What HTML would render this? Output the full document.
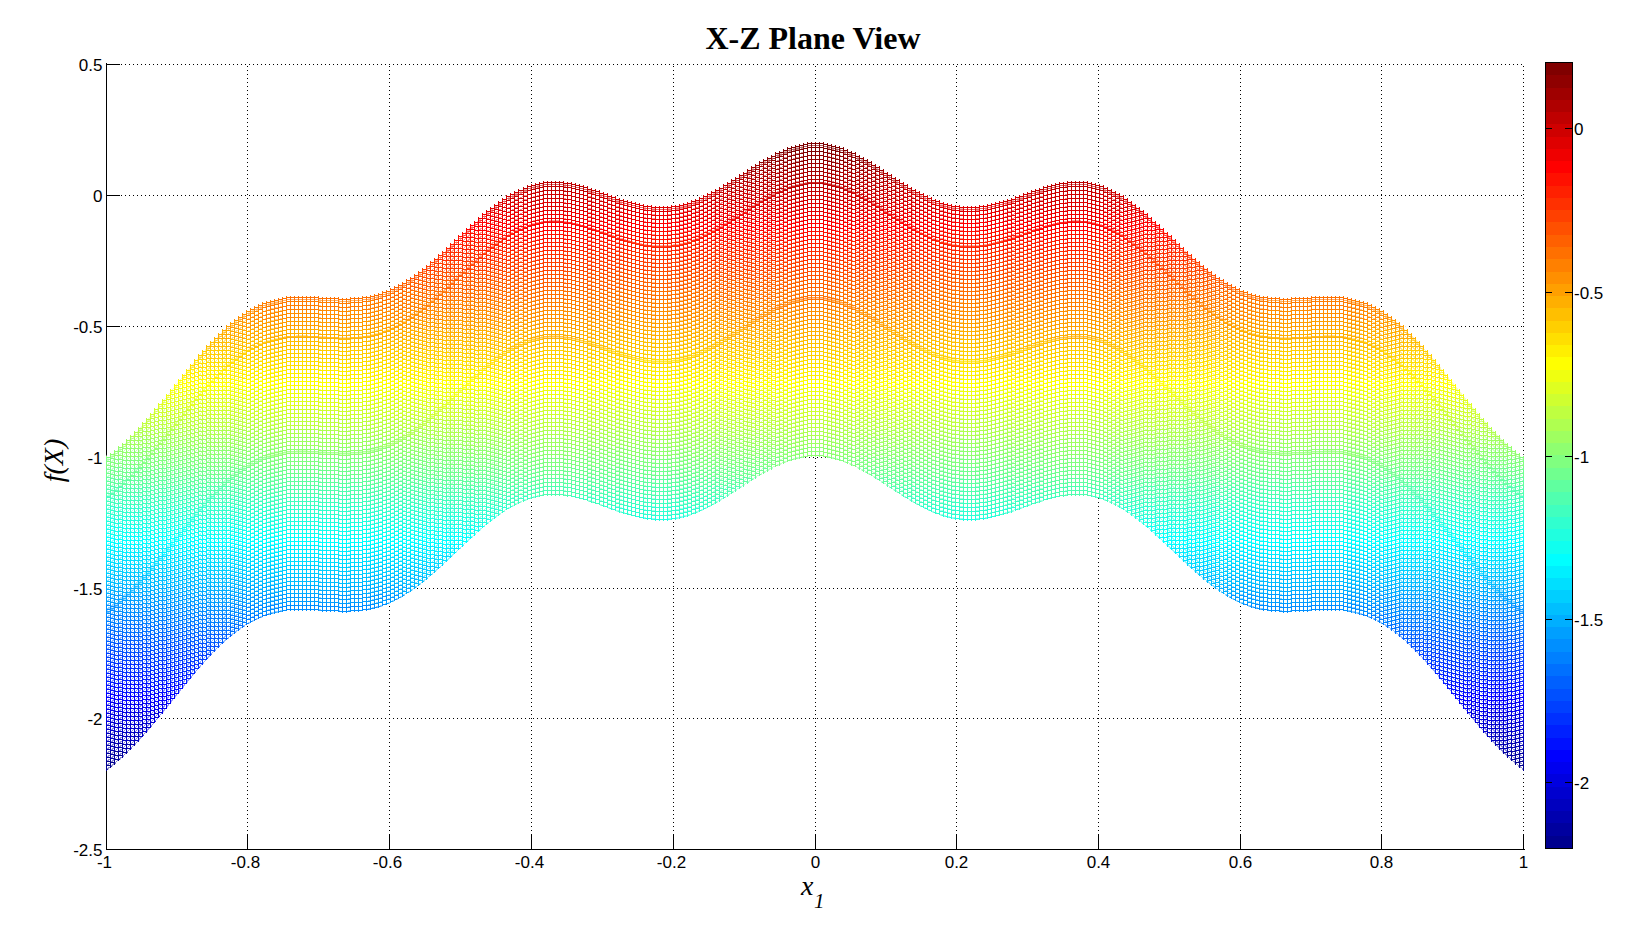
<!DOCTYPE html><html><head><meta charset="utf-8"><title>X-Z Plane View</title><style>html,body{margin:0;padding:0;background:#fff;}svg{display:block;}</style></head><body><svg width="1632" height="945" viewBox="0 0 1632 945"><defs><linearGradient id="jet" gradientUnits="userSpaceOnUse" x1="0" y1="143.00" x2="0" y2="771.01"><stop offset="0.00000" stop-color="#800000"/><stop offset="0.01562" stop-color="#800000"/><stop offset="0.01562" stop-color="#8f0000"/><stop offset="0.03125" stop-color="#8f0000"/><stop offset="0.03125" stop-color="#9f0000"/><stop offset="0.04688" stop-color="#9f0000"/><stop offset="0.04688" stop-color="#af0000"/><stop offset="0.06250" stop-color="#af0000"/><stop offset="0.06250" stop-color="#bf0000"/><stop offset="0.07812" stop-color="#bf0000"/><stop offset="0.07812" stop-color="#cf0000"/><stop offset="0.09375" stop-color="#cf0000"/><stop offset="0.09375" stop-color="#df0000"/><stop offset="0.10938" stop-color="#df0000"/><stop offset="0.10938" stop-color="#ef0000"/><stop offset="0.12500" stop-color="#ef0000"/><stop offset="0.12500" stop-color="#ff0000"/><stop offset="0.14062" stop-color="#ff0000"/><stop offset="0.14062" stop-color="#ff1000"/><stop offset="0.15625" stop-color="#ff1000"/><stop offset="0.15625" stop-color="#ff2000"/><stop offset="0.17188" stop-color="#ff2000"/><stop offset="0.17188" stop-color="#ff3000"/><stop offset="0.18750" stop-color="#ff3000"/><stop offset="0.18750" stop-color="#ff4000"/><stop offset="0.20312" stop-color="#ff4000"/><stop offset="0.20312" stop-color="#ff5000"/><stop offset="0.21875" stop-color="#ff5000"/><stop offset="0.21875" stop-color="#ff6000"/><stop offset="0.23438" stop-color="#ff6000"/><stop offset="0.23438" stop-color="#ff7000"/><stop offset="0.25000" stop-color="#ff7000"/><stop offset="0.25000" stop-color="#ff8000"/><stop offset="0.26562" stop-color="#ff8000"/><stop offset="0.26562" stop-color="#ff8f00"/><stop offset="0.28125" stop-color="#ff8f00"/><stop offset="0.28125" stop-color="#ff9f00"/><stop offset="0.29688" stop-color="#ff9f00"/><stop offset="0.29688" stop-color="#ffaf00"/><stop offset="0.31250" stop-color="#ffaf00"/><stop offset="0.31250" stop-color="#ffbf00"/><stop offset="0.32812" stop-color="#ffbf00"/><stop offset="0.32812" stop-color="#ffcf00"/><stop offset="0.34375" stop-color="#ffcf00"/><stop offset="0.34375" stop-color="#ffdf00"/><stop offset="0.35938" stop-color="#ffdf00"/><stop offset="0.35938" stop-color="#ffef00"/><stop offset="0.37500" stop-color="#ffef00"/><stop offset="0.37500" stop-color="#ffff00"/><stop offset="0.39062" stop-color="#ffff00"/><stop offset="0.39062" stop-color="#efff10"/><stop offset="0.40625" stop-color="#efff10"/><stop offset="0.40625" stop-color="#dfff20"/><stop offset="0.42188" stop-color="#dfff20"/><stop offset="0.42188" stop-color="#cfff30"/><stop offset="0.43750" stop-color="#cfff30"/><stop offset="0.43750" stop-color="#bfff40"/><stop offset="0.45312" stop-color="#bfff40"/><stop offset="0.45312" stop-color="#afff50"/><stop offset="0.46875" stop-color="#afff50"/><stop offset="0.46875" stop-color="#9fff60"/><stop offset="0.48438" stop-color="#9fff60"/><stop offset="0.48438" stop-color="#8fff70"/><stop offset="0.50000" stop-color="#8fff70"/><stop offset="0.50000" stop-color="#80ff80"/><stop offset="0.51562" stop-color="#80ff80"/><stop offset="0.51562" stop-color="#70ff8f"/><stop offset="0.53125" stop-color="#70ff8f"/><stop offset="0.53125" stop-color="#60ff9f"/><stop offset="0.54688" stop-color="#60ff9f"/><stop offset="0.54688" stop-color="#50ffaf"/><stop offset="0.56250" stop-color="#50ffaf"/><stop offset="0.56250" stop-color="#40ffbf"/><stop offset="0.57812" stop-color="#40ffbf"/><stop offset="0.57812" stop-color="#30ffcf"/><stop offset="0.59375" stop-color="#30ffcf"/><stop offset="0.59375" stop-color="#20ffdf"/><stop offset="0.60938" stop-color="#20ffdf"/><stop offset="0.60938" stop-color="#10ffef"/><stop offset="0.62500" stop-color="#10ffef"/><stop offset="0.62500" stop-color="#00ffff"/><stop offset="0.64062" stop-color="#00ffff"/><stop offset="0.64062" stop-color="#00efff"/><stop offset="0.65625" stop-color="#00efff"/><stop offset="0.65625" stop-color="#00dfff"/><stop offset="0.67188" stop-color="#00dfff"/><stop offset="0.67188" stop-color="#00cfff"/><stop offset="0.68750" stop-color="#00cfff"/><stop offset="0.68750" stop-color="#00bfff"/><stop offset="0.70312" stop-color="#00bfff"/><stop offset="0.70312" stop-color="#00afff"/><stop offset="0.71875" stop-color="#00afff"/><stop offset="0.71875" stop-color="#009fff"/><stop offset="0.73438" stop-color="#009fff"/><stop offset="0.73438" stop-color="#008fff"/><stop offset="0.75000" stop-color="#008fff"/><stop offset="0.75000" stop-color="#0080ff"/><stop offset="0.76562" stop-color="#0080ff"/><stop offset="0.76562" stop-color="#0070ff"/><stop offset="0.78125" stop-color="#0070ff"/><stop offset="0.78125" stop-color="#0060ff"/><stop offset="0.79688" stop-color="#0060ff"/><stop offset="0.79688" stop-color="#0050ff"/><stop offset="0.81250" stop-color="#0050ff"/><stop offset="0.81250" stop-color="#0040ff"/><stop offset="0.82812" stop-color="#0040ff"/><stop offset="0.82812" stop-color="#0030ff"/><stop offset="0.84375" stop-color="#0030ff"/><stop offset="0.84375" stop-color="#0020ff"/><stop offset="0.85938" stop-color="#0020ff"/><stop offset="0.85938" stop-color="#0010ff"/><stop offset="0.87500" stop-color="#0010ff"/><stop offset="0.87500" stop-color="#0000ff"/><stop offset="0.89062" stop-color="#0000ff"/><stop offset="0.89062" stop-color="#0000ef"/><stop offset="0.90625" stop-color="#0000ef"/><stop offset="0.90625" stop-color="#0000df"/><stop offset="0.92188" stop-color="#0000df"/><stop offset="0.92188" stop-color="#0000cf"/><stop offset="0.93750" stop-color="#0000cf"/><stop offset="0.93750" stop-color="#0000bf"/><stop offset="0.95312" stop-color="#0000bf"/><stop offset="0.95312" stop-color="#0000af"/><stop offset="0.96875" stop-color="#0000af"/><stop offset="0.96875" stop-color="#00009f"/><stop offset="0.98438" stop-color="#00009f"/><stop offset="0.98438" stop-color="#00008f"/><stop offset="1.00000" stop-color="#00008f"/></linearGradient><linearGradient id="jcb" gradientUnits="userSpaceOnUse" x1="0" y1="63" x2="0" y2="848"><stop offset="0.00000" stop-color="#800000"/><stop offset="0.01562" stop-color="#800000"/><stop offset="0.01562" stop-color="#8f0000"/><stop offset="0.03125" stop-color="#8f0000"/><stop offset="0.03125" stop-color="#9f0000"/><stop offset="0.04688" stop-color="#9f0000"/><stop offset="0.04688" stop-color="#af0000"/><stop offset="0.06250" stop-color="#af0000"/><stop offset="0.06250" stop-color="#bf0000"/><stop offset="0.07812" stop-color="#bf0000"/><stop offset="0.07812" stop-color="#cf0000"/><stop offset="0.09375" stop-color="#cf0000"/><stop offset="0.09375" stop-color="#df0000"/><stop offset="0.10938" stop-color="#df0000"/><stop offset="0.10938" stop-color="#ef0000"/><stop offset="0.12500" stop-color="#ef0000"/><stop offset="0.12500" stop-color="#ff0000"/><stop offset="0.14062" stop-color="#ff0000"/><stop offset="0.14062" stop-color="#ff1000"/><stop offset="0.15625" stop-color="#ff1000"/><stop offset="0.15625" stop-color="#ff2000"/><stop offset="0.17188" stop-color="#ff2000"/><stop offset="0.17188" stop-color="#ff3000"/><stop offset="0.18750" stop-color="#ff3000"/><stop offset="0.18750" stop-color="#ff4000"/><stop offset="0.20312" stop-color="#ff4000"/><stop offset="0.20312" stop-color="#ff5000"/><stop offset="0.21875" stop-color="#ff5000"/><stop offset="0.21875" stop-color="#ff6000"/><stop offset="0.23438" stop-color="#ff6000"/><stop offset="0.23438" stop-color="#ff7000"/><stop offset="0.25000" stop-color="#ff7000"/><stop offset="0.25000" stop-color="#ff8000"/><stop offset="0.26562" stop-color="#ff8000"/><stop offset="0.26562" stop-color="#ff8f00"/><stop offset="0.28125" stop-color="#ff8f00"/><stop offset="0.28125" stop-color="#ff9f00"/><stop offset="0.29688" stop-color="#ff9f00"/><stop offset="0.29688" stop-color="#ffaf00"/><stop offset="0.31250" stop-color="#ffaf00"/><stop offset="0.31250" stop-color="#ffbf00"/><stop offset="0.32812" stop-color="#ffbf00"/><stop offset="0.32812" stop-color="#ffcf00"/><stop offset="0.34375" stop-color="#ffcf00"/><stop offset="0.34375" stop-color="#ffdf00"/><stop offset="0.35938" stop-color="#ffdf00"/><stop offset="0.35938" stop-color="#ffef00"/><stop offset="0.37500" stop-color="#ffef00"/><stop offset="0.37500" stop-color="#ffff00"/><stop offset="0.39062" stop-color="#ffff00"/><stop offset="0.39062" stop-color="#efff10"/><stop offset="0.40625" stop-color="#efff10"/><stop offset="0.40625" stop-color="#dfff20"/><stop offset="0.42188" stop-color="#dfff20"/><stop offset="0.42188" stop-color="#cfff30"/><stop offset="0.43750" stop-color="#cfff30"/><stop offset="0.43750" stop-color="#bfff40"/><stop offset="0.45312" stop-color="#bfff40"/><stop offset="0.45312" stop-color="#afff50"/><stop offset="0.46875" stop-color="#afff50"/><stop offset="0.46875" stop-color="#9fff60"/><stop offset="0.48438" stop-color="#9fff60"/><stop offset="0.48438" stop-color="#8fff70"/><stop offset="0.50000" stop-color="#8fff70"/><stop offset="0.50000" stop-color="#80ff80"/><stop offset="0.51562" stop-color="#80ff80"/><stop offset="0.51562" stop-color="#70ff8f"/><stop offset="0.53125" stop-color="#70ff8f"/><stop offset="0.53125" stop-color="#60ff9f"/><stop offset="0.54688" stop-color="#60ff9f"/><stop offset="0.54688" stop-color="#50ffaf"/><stop offset="0.56250" stop-color="#50ffaf"/><stop offset="0.56250" stop-color="#40ffbf"/><stop offset="0.57812" stop-color="#40ffbf"/><stop offset="0.57812" stop-color="#30ffcf"/><stop offset="0.59375" stop-color="#30ffcf"/><stop offset="0.59375" stop-color="#20ffdf"/><stop offset="0.60938" stop-color="#20ffdf"/><stop offset="0.60938" stop-color="#10ffef"/><stop offset="0.62500" stop-color="#10ffef"/><stop offset="0.62500" stop-color="#00ffff"/><stop offset="0.64062" stop-color="#00ffff"/><stop offset="0.64062" stop-color="#00efff"/><stop offset="0.65625" stop-color="#00efff"/><stop offset="0.65625" stop-color="#00dfff"/><stop offset="0.67188" stop-color="#00dfff"/><stop offset="0.67188" stop-color="#00cfff"/><stop offset="0.68750" stop-color="#00cfff"/><stop offset="0.68750" stop-color="#00bfff"/><stop offset="0.70312" stop-color="#00bfff"/><stop offset="0.70312" stop-color="#00afff"/><stop offset="0.71875" stop-color="#00afff"/><stop offset="0.71875" stop-color="#009fff"/><stop offset="0.73438" stop-color="#009fff"/><stop offset="0.73438" stop-color="#008fff"/><stop offset="0.75000" stop-color="#008fff"/><stop offset="0.75000" stop-color="#0080ff"/><stop offset="0.76562" stop-color="#0080ff"/><stop offset="0.76562" stop-color="#0070ff"/><stop offset="0.78125" stop-color="#0070ff"/><stop offset="0.78125" stop-color="#0060ff"/><stop offset="0.79688" stop-color="#0060ff"/><stop offset="0.79688" stop-color="#0050ff"/><stop offset="0.81250" stop-color="#0050ff"/><stop offset="0.81250" stop-color="#0040ff"/><stop offset="0.82812" stop-color="#0040ff"/><stop offset="0.82812" stop-color="#0030ff"/><stop offset="0.84375" stop-color="#0030ff"/><stop offset="0.84375" stop-color="#0020ff"/><stop offset="0.85938" stop-color="#0020ff"/><stop offset="0.85938" stop-color="#0010ff"/><stop offset="0.87500" stop-color="#0010ff"/><stop offset="0.87500" stop-color="#0000ff"/><stop offset="0.89062" stop-color="#0000ff"/><stop offset="0.89062" stop-color="#0000ef"/><stop offset="0.90625" stop-color="#0000ef"/><stop offset="0.90625" stop-color="#0000df"/><stop offset="0.92188" stop-color="#0000df"/><stop offset="0.92188" stop-color="#0000cf"/><stop offset="0.93750" stop-color="#0000cf"/><stop offset="0.93750" stop-color="#0000bf"/><stop offset="0.95312" stop-color="#0000bf"/><stop offset="0.95312" stop-color="#0000af"/><stop offset="0.96875" stop-color="#0000af"/><stop offset="0.96875" stop-color="#00009f"/><stop offset="0.98438" stop-color="#00009f"/><stop offset="0.98438" stop-color="#00008f"/><stop offset="1.00000" stop-color="#00008f"/></linearGradient><path id="gst" d="M106.5 457.5H110.5M110.5 454.5H114.5M114.5 451.5H118.5M118.5 447.5H122.5M122.5 444.5H126.5M126.5 440.5H130.5M130.5 436.5H134.5M134.5 432.5H138.5M138.5 428.5H142.5M142.5 423.5H146.5M146.5 419.5H150.5M150.5 414.5H154.5M154.5 409.5H158.5M158.5 404.5H162.5M162.5 400.5H166.5M166.5 395.5H170.5M170.5 390.5H174.5M174.5 385.5H178.5M178.5 380.5H182.5M182.5 375.5H186.5M186.5 370.5H190.5M190.5 365.5H194.5M194.5 360.5H198.5M198.5 355.5H202.5M202.5 351.5H206.5M206.5 346.5H210.5M210.5 342.5H214.5M214.5 338.5H218.5M218.5 334.5H222.5M222.5 330.5H226.5M226.5 326.5H230.5M230.5 323.5H234.5M234.5 320.5H238.5M238.5 317.5H242.5M242.5 314.5H246.5M246.5 311.5H250.5M250.5 309.5H254.5M254.5 307.5H258.5M258.5 305.5H262.5M262.5 303.5H266.5M266.5 302.5H270.5M270.5 301.5H274.5M274.5 300.5H278.5M278.5 299.5H282.5M282.5 298.5H286.5M286.5 297.5H290.5M290.5 297.5H294.5M294.5 297.5H298.5M298.5 297.5H302.5M302.5 297.5H306.5M306.5 297.5H310.5M310.5 297.5H314.5M314.5 297.5H318.5M318.5 298.5H322.5M322.5 298.5H326.5M326.5 298.5H330.5M330.5 298.5H334.5M334.5 298.5H338.5M338.5 299.5H342.5M342.5 299.5H346.5M346.5 299.5H350.5M350.5 298.5H354.5M354.5 298.5H358.5M358.5 298.5H362.5M362.5 297.5H366.5M366.5 297.5H370.5M370.5 296.5H374.5M374.5 295.5H378.5M378.5 294.5H382.5M382.5 292.5H386.5M386.5 291.5H390.5M390.5 289.5H394.5M394.5 287.5H398.5M398.5 285.5H402.5M402.5 283.5H406.5M406.5 280.5H410.5M410.5 278.5H414.5M414.5 275.5H418.5M418.5 272.5H422.5M422.5 269.5H426.5M426.5 266.5H430.5M430.5 262.5H434.5M434.5 259.5H438.5M438.5 255.5H442.5M442.5 252.5H446.5M446.5 248.5H450.5M450.5 244.5H454.5M454.5 240.5H458.5M458.5 236.5H462.5M462.5 233.5H466.5M466.5 229.5H470.5M470.5 225.5H474.5M474.5 222.5H478.5M478.5 218.5H482.5M482.5 214.5H486.5M486.5 211.5H490.5M490.5 208.5H494.5M494.5 205.5H498.5M498.5 202.5H502.5M502.5 199.5H506.5M506.5 196.5H510.5M510.5 194.5H514.5M514.5 192.5H518.5M518.5 190.5H523.5M523.5 188.5H527.5M527.5 186.5H531.5M531.5 185.5H535.5M535.5 184.5H539.5M539.5 183.5H543.5M543.5 182.5H547.5M547.5 182.5H551.5M551.5 182.5H555.5M555.5 182.5H559.5M559.5 182.5H563.5M563.5 183.5H567.5M567.5 183.5H571.5M571.5 184.5H575.5M575.5 185.5H579.5M579.5 186.5H583.5M583.5 187.5H587.5M587.5 189.5H591.5M591.5 190.5H595.5M595.5 191.5H599.5M599.5 193.5H603.5M603.5 194.5H607.5M607.5 196.5H611.5M611.5 197.5H615.5M615.5 199.5H619.5M619.5 200.5H623.5M623.5 201.5H627.5M627.5 202.5H631.5M631.5 203.5H635.5M635.5 204.5H639.5M639.5 205.5H643.5M643.5 206.5H647.5M647.5 206.5H651.5M651.5 207.5H655.5M655.5 207.5H659.5M659.5 207.5H663.5M663.5 207.5H667.5M667.5 207.5H671.5M671.5 206.5H675.5M675.5 206.5H679.5M679.5 205.5H683.5M683.5 204.5H687.5M687.5 203.5H691.5M691.5 201.5H695.5M695.5 200.5H699.5M699.5 198.5H703.5M703.5 196.5H707.5M707.5 194.5H711.5M711.5 192.5H715.5M715.5 190.5H719.5M719.5 188.5H723.5M723.5 185.5H727.5M727.5 183.5H731.5M731.5 180.5H735.5M735.5 178.5H739.5M739.5 175.5H743.5M743.5 173.5H747.5M747.5 170.5H751.5M751.5 167.5H755.5M755.5 165.5H759.5M759.5 162.5H763.5M763.5 160.5H767.5M767.5 158.5H771.5M771.5 156.5H775.5M775.5 153.5H779.5M779.5 152.5H783.5M783.5 150.5H787.5M787.5 148.5H791.5M791.5 147.5H795.5M795.5 146.5H799.5M799.5 145.5H803.5M803.5 144.5H807.5M807.5 143.5H811.5M811.5 143.5H815.5M815.5 143.5H819.5M819.5 143.5H823.5M823.5 144.5H827.5M827.5 145.5H831.5M831.5 146.5H835.5M835.5 147.5H839.5M839.5 148.5H843.5M843.5 150.5H847.5M847.5 152.5H851.5M851.5 153.5H855.5M855.5 156.5H859.5M859.5 158.5H863.5M863.5 160.5H867.5M867.5 162.5H871.5M871.5 165.5H875.5M875.5 167.5H879.5M879.5 170.5H883.5M883.5 173.5H887.5M887.5 175.5H891.5M891.5 178.5H895.5M895.5 180.5H899.5M899.5 183.5H903.5M903.5 185.5H907.5M907.5 188.5H911.5M911.5 190.5H915.5M915.5 192.5H919.5M919.5 194.5H923.5M923.5 196.5H927.5M927.5 198.5H931.5M931.5 200.5H935.5M935.5 201.5H939.5M939.5 203.5H943.5M943.5 204.5H947.5M947.5 205.5H951.5M951.5 206.5H955.5M955.5 206.5H959.5M959.5 207.5H963.5M963.5 207.5H967.5M967.5 207.5H971.5M971.5 207.5H975.5M975.5 207.5H979.5M979.5 206.5H983.5M983.5 206.5H987.5M987.5 205.5H991.5M991.5 204.5H995.5M995.5 203.5H999.5M999.5 202.5H1003.5M1003.5 201.5H1007.5M1007.5 200.5H1011.5M1011.5 199.5H1015.5M1015.5 197.5H1019.5M1019.5 196.5H1023.5M1023.5 194.5H1027.5M1027.5 193.5H1031.5M1031.5 191.5H1035.5M1035.5 190.5H1039.5M1039.5 189.5H1043.5M1043.5 187.5H1047.5M1047.5 186.5H1051.5M1051.5 185.5H1055.5M1055.5 184.5H1059.5M1059.5 183.5H1063.5M1063.5 183.5H1067.5M1067.5 182.5H1071.5M1071.5 182.5H1075.5M1075.5 182.5H1079.5M1079.5 182.5H1083.5M1083.5 182.5H1087.5M1087.5 183.5H1091.5M1091.5 184.5H1095.5M1095.5 185.5H1099.5M1099.5 186.5H1103.5M1103.5 188.5H1107.5M1107.5 190.5H1111.5M1111.5 192.5H1115.5M1115.5 194.5H1119.5M1119.5 196.5H1123.5M1123.5 199.5H1127.5M1127.5 202.5H1131.5M1131.5 205.5H1135.5M1135.5 208.5H1139.5M1139.5 211.5H1143.5M1143.5 214.5H1147.5M1147.5 218.5H1151.5M1151.5 222.5H1155.5M1155.5 225.5H1159.5M1159.5 229.5H1163.5M1163.5 233.5H1167.5M1167.5 236.5H1171.5M1171.5 240.5H1175.5M1175.5 244.5H1179.5M1179.5 248.5H1183.5M1183.5 252.5H1187.5M1187.5 255.5H1191.5M1191.5 259.5H1195.5M1195.5 262.5H1199.5M1199.5 266.5H1203.5M1203.5 269.5H1207.5M1207.5 272.5H1211.5M1211.5 275.5H1215.5M1215.5 278.5H1219.5M1219.5 280.5H1223.5M1223.5 283.5H1227.5M1227.5 285.5H1231.5M1231.5 287.5H1235.5M1235.5 289.5H1239.5M1239.5 291.5H1243.5M1243.5 292.5H1247.5M1247.5 294.5H1251.5M1251.5 295.5H1255.5M1255.5 296.5H1259.5M1259.5 297.5H1263.5M1263.5 297.5H1267.5M1267.5 298.5H1271.5M1271.5 298.5H1275.5M1275.5 298.5H1279.5M1279.5 299.5H1283.5M1283.5 299.5H1287.5M1287.5 299.5H1291.5M1291.5 298.5H1295.5M1295.5 298.5H1299.5M1299.5 298.5H1303.5M1303.5 298.5H1307.5M1307.5 298.5H1311.5M1311.5 297.5H1315.5M1315.5 297.5H1319.5M1319.5 297.5H1323.5M1323.5 297.5H1327.5M1327.5 297.5H1331.5M1331.5 297.5H1335.5M1335.5 297.5H1339.5M1339.5 297.5H1343.5M1343.5 298.5H1347.5M1347.5 299.5H1351.5M1351.5 300.5H1355.5M1355.5 301.5H1359.5M1359.5 302.5H1363.5M1363.5 303.5H1367.5M1367.5 305.5H1371.5M1371.5 307.5H1375.5M1375.5 309.5H1379.5M1379.5 311.5H1383.5M1383.5 314.5H1387.5M1387.5 317.5H1391.5M1391.5 320.5H1395.5M1395.5 323.5H1399.5M1399.5 326.5H1403.5M1403.5 330.5H1407.5M1407.5 334.5H1411.5M1411.5 338.5H1415.5M1415.5 342.5H1419.5M1419.5 346.5H1423.5M1423.5 351.5H1427.5M1427.5 355.5H1431.5M1431.5 360.5H1435.5M1435.5 365.5H1439.5M1439.5 370.5H1443.5M1443.5 375.5H1447.5M1447.5 380.5H1451.5M1451.5 385.5H1455.5M1455.5 390.5H1459.5M1459.5 395.5H1463.5M1463.5 400.5H1467.5M1467.5 404.5H1471.5M1471.5 409.5H1475.5M1475.5 414.5H1479.5M1479.5 419.5H1483.5M1483.5 423.5H1487.5M1487.5 428.5H1491.5M1491.5 432.5H1495.5M1495.5 436.5H1499.5M1499.5 440.5H1503.5M1503.5 444.5H1507.5M1507.5 447.5H1511.5M1511.5 451.5H1515.5M1515.5 454.5H1519.5M1519.5 457.5H1523.5"/><g id="gs"><path d="M106.5 457.5H110.5M110.5 454.5H114.5M114.5 451.5H118.5M118.5 447.5H122.5M122.5 444.5H126.5M126.5 440.5H130.5M130.5 436.5H134.5M134.5 432.5H138.5M138.5 428.5H142.5M142.5 423.5H146.5M146.5 419.5H150.5M150.5 414.5H154.5M154.5 409.5H158.5M158.5 404.5H162.5M162.5 400.5H166.5M166.5 395.5H170.5M170.5 390.5H174.5M174.5 385.5H178.5M178.5 380.5H182.5M182.5 375.5H186.5M186.5 370.5H190.5M190.5 365.5H194.5M194.5 360.5H198.5M198.5 355.5H202.5M202.5 351.5H206.5M206.5 346.5H210.5M210.5 342.5H214.5M214.5 338.5H218.5M218.5 334.5H222.5M222.5 330.5H226.5M226.5 326.5H230.5M230.5 323.5H234.5M234.5 320.5H238.5M238.5 317.5H242.5M242.5 314.5H246.5M246.5 311.5H250.5M250.5 309.5H254.5M254.5 307.5H258.5M258.5 305.5H262.5M262.5 303.5H266.5M266.5 302.5H270.5M270.5 301.5H274.5M274.5 300.5H278.5M278.5 299.5H282.5M282.5 298.5H286.5M286.5 297.5H290.5M290.5 297.5H294.5M294.5 297.5H298.5M298.5 297.5H302.5M302.5 297.5H306.5M306.5 297.5H310.5M310.5 297.5H314.5M314.5 297.5H318.5M318.5 298.5H322.5M322.5 298.5H326.5M326.5 298.5H330.5M330.5 298.5H334.5M334.5 298.5H338.5M338.5 299.5H342.5M342.5 299.5H346.5M346.5 299.5H350.5M350.5 298.5H354.5M354.5 298.5H358.5M358.5 298.5H362.5M362.5 297.5H366.5M366.5 297.5H370.5M370.5 296.5H374.5M374.5 295.5H378.5M378.5 294.5H382.5M382.5 292.5H386.5M386.5 291.5H390.5M390.5 289.5H394.5M394.5 287.5H398.5M398.5 285.5H402.5M402.5 283.5H406.5M406.5 280.5H410.5M410.5 278.5H414.5M414.5 275.5H418.5M418.5 272.5H422.5M422.5 269.5H426.5M426.5 266.5H430.5M430.5 262.5H434.5M434.5 259.5H438.5M438.5 255.5H442.5M442.5 252.5H446.5M446.5 248.5H450.5M450.5 244.5H454.5M454.5 240.5H458.5M458.5 236.5H462.5M462.5 233.5H466.5M466.5 229.5H470.5M470.5 225.5H474.5M474.5 222.5H478.5M478.5 218.5H482.5M482.5 214.5H486.5M486.5 211.5H490.5M490.5 208.5H494.5M494.5 205.5H498.5M498.5 202.5H502.5M502.5 199.5H506.5M506.5 196.5H510.5M510.5 194.5H514.5M514.5 192.5H518.5M518.5 190.5H523.5M523.5 188.5H527.5M527.5 186.5H531.5M531.5 185.5H535.5M535.5 184.5H539.5M539.5 183.5H543.5M543.5 182.5H547.5M547.5 182.5H551.5M551.5 182.5H555.5M555.5 182.5H559.5M559.5 182.5H563.5M563.5 183.5H567.5M567.5 183.5H571.5M571.5 184.5H575.5M575.5 185.5H579.5M579.5 186.5H583.5M583.5 187.5H587.5M587.5 189.5H591.5M591.5 190.5H595.5M595.5 191.5H599.5M599.5 193.5H603.5M603.5 194.5H607.5M607.5 196.5H611.5M611.5 197.5H615.5M615.5 199.5H619.5M619.5 200.5H623.5M623.5 201.5H627.5M627.5 202.5H631.5M631.5 203.5H635.5M635.5 204.5H639.5M639.5 205.5H643.5M643.5 206.5H647.5M647.5 206.5H651.5M651.5 207.5H655.5M655.5 207.5H659.5M659.5 207.5H663.5M663.5 207.5H667.5M667.5 207.5H671.5M671.5 206.5H675.5M675.5 206.5H679.5M679.5 205.5H683.5M683.5 204.5H687.5M687.5 203.5H691.5M691.5 201.5H695.5M695.5 200.5H699.5M699.5 198.5H703.5M703.5 196.5H707.5M707.5 194.5H711.5M711.5 192.5H715.5M715.5 190.5H719.5M719.5 188.5H723.5M723.5 185.5H727.5M727.5 183.5H731.5M731.5 180.5H735.5M735.5 178.5H739.5M739.5 175.5H743.5M743.5 173.5H747.5M747.5 170.5H751.5M751.5 167.5H755.5M755.5 165.5H759.5M759.5 162.5H763.5M763.5 160.5H767.5M767.5 158.5H771.5M771.5 156.5H775.5M775.5 153.5H779.5M779.5 152.5H783.5M783.5 150.5H787.5M787.5 148.5H791.5M791.5 147.5H795.5M795.5 146.5H799.5M799.5 145.5H803.5M803.5 144.5H807.5M807.5 143.5H811.5M811.5 143.5H815.5M815.5 143.5H819.5M819.5 143.5H823.5M823.5 144.5H827.5M827.5 145.5H831.5M831.5 146.5H835.5M835.5 147.5H839.5M839.5 148.5H843.5M843.5 150.5H847.5M847.5 152.5H851.5M851.5 153.5H855.5M855.5 156.5H859.5M859.5 158.5H863.5M863.5 160.5H867.5M867.5 162.5H871.5M871.5 165.5H875.5M875.5 167.5H879.5M879.5 170.5H883.5M883.5 173.5H887.5M887.5 175.5H891.5M891.5 178.5H895.5M895.5 180.5H899.5M899.5 183.5H903.5M903.5 185.5H907.5M907.5 188.5H911.5M911.5 190.5H915.5M915.5 192.5H919.5M919.5 194.5H923.5M923.5 196.5H927.5M927.5 198.5H931.5M931.5 200.5H935.5M935.5 201.5H939.5M939.5 203.5H943.5M943.5 204.5H947.5M947.5 205.5H951.5M951.5 206.5H955.5M955.5 206.5H959.5M959.5 207.5H963.5M963.5 207.5H967.5M967.5 207.5H971.5M971.5 207.5H975.5M975.5 207.5H979.5M979.5 206.5H983.5M983.5 206.5H987.5M987.5 205.5H991.5M991.5 204.5H995.5M995.5 203.5H999.5M999.5 202.5H1003.5M1003.5 201.5H1007.5M1007.5 200.5H1011.5M1011.5 199.5H1015.5M1015.5 197.5H1019.5M1019.5 196.5H1023.5M1023.5 194.5H1027.5M1027.5 193.5H1031.5M1031.5 191.5H1035.5M1035.5 190.5H1039.5M1039.5 189.5H1043.5M1043.5 187.5H1047.5M1047.5 186.5H1051.5M1051.5 185.5H1055.5M1055.5 184.5H1059.5M1059.5 183.5H1063.5M1063.5 183.5H1067.5M1067.5 182.5H1071.5M1071.5 182.5H1075.5M1075.5 182.5H1079.5M1079.5 182.5H1083.5M1083.5 182.5H1087.5M1087.5 183.5H1091.5M1091.5 184.5H1095.5M1095.5 185.5H1099.5M1099.5 186.5H1103.5M1103.5 188.5H1107.5M1107.5 190.5H1111.5M1111.5 192.5H1115.5M1115.5 194.5H1119.5M1119.5 196.5H1123.5M1123.5 199.5H1127.5M1127.5 202.5H1131.5M1131.5 205.5H1135.5M1135.5 208.5H1139.5M1139.5 211.5H1143.5M1143.5 214.5H1147.5M1147.5 218.5H1151.5M1151.5 222.5H1155.5M1155.5 225.5H1159.5M1159.5 229.5H1163.5M1163.5 233.5H1167.5M1167.5 236.5H1171.5M1171.5 240.5H1175.5M1175.5 244.5H1179.5M1179.5 248.5H1183.5M1183.5 252.5H1187.5M1187.5 255.5H1191.5M1191.5 259.5H1195.5M1195.5 262.5H1199.5M1199.5 266.5H1203.5M1203.5 269.5H1207.5M1207.5 272.5H1211.5M1211.5 275.5H1215.5M1215.5 278.5H1219.5M1219.5 280.5H1223.5M1223.5 283.5H1227.5M1227.5 285.5H1231.5M1231.5 287.5H1235.5M1235.5 289.5H1239.5M1239.5 291.5H1243.5M1243.5 292.5H1247.5M1247.5 294.5H1251.5M1251.5 295.5H1255.5M1255.5 296.5H1259.5M1259.5 297.5H1263.5M1263.5 297.5H1267.5M1267.5 298.5H1271.5M1271.5 298.5H1275.5M1275.5 298.5H1279.5M1279.5 299.5H1283.5M1283.5 299.5H1287.5M1287.5 299.5H1291.5M1291.5 298.5H1295.5M1295.5 298.5H1299.5M1299.5 298.5H1303.5M1303.5 298.5H1307.5M1307.5 298.5H1311.5M1311.5 297.5H1315.5M1315.5 297.5H1319.5M1319.5 297.5H1323.5M1323.5 297.5H1327.5M1327.5 297.5H1331.5M1331.5 297.5H1335.5M1335.5 297.5H1339.5M1339.5 297.5H1343.5M1343.5 298.5H1347.5M1347.5 299.5H1351.5M1351.5 300.5H1355.5M1355.5 301.5H1359.5M1359.5 302.5H1363.5M1363.5 303.5H1367.5M1367.5 305.5H1371.5M1371.5 307.5H1375.5M1375.5 309.5H1379.5M1379.5 311.5H1383.5M1383.5 314.5H1387.5M1387.5 317.5H1391.5M1391.5 320.5H1395.5M1395.5 323.5H1399.5M1399.5 326.5H1403.5M1403.5 330.5H1407.5M1407.5 334.5H1411.5M1411.5 338.5H1415.5M1415.5 342.5H1419.5M1419.5 346.5H1423.5M1423.5 351.5H1427.5M1427.5 355.5H1431.5M1431.5 360.5H1435.5M1435.5 365.5H1439.5M1439.5 370.5H1443.5M1443.5 375.5H1447.5M1447.5 380.5H1451.5M1451.5 385.5H1455.5M1455.5 390.5H1459.5M1459.5 395.5H1463.5M1463.5 400.5H1467.5M1467.5 404.5H1471.5M1471.5 409.5H1475.5M1475.5 414.5H1479.5M1479.5 419.5H1483.5M1483.5 423.5H1487.5M1487.5 428.5H1491.5M1491.5 432.5H1495.5M1495.5 436.5H1499.5M1499.5 440.5H1503.5M1503.5 444.5H1507.5M1507.5 447.5H1511.5M1511.5 451.5H1515.5M1515.5 454.5H1519.5M1519.5 457.5H1523.5"/><path d="M106.65 457.50L110.65 454.45L114.66 451.21L118.66 447.79L122.66 444.18L126.67 440.40L130.67 436.44L134.67 432.33L138.68 428.06L142.68 423.66L146.68 419.13L150.69 414.48L154.69 409.74L158.69 404.91L162.70 400.02L166.70 395.08L170.70 390.10L174.71 385.11L178.71 380.13L182.71 375.16L186.72 370.24L190.72 365.38L194.72 360.59L198.73 355.89L202.73 351.31L206.73 346.85L210.74 342.53L214.74 338.37L218.74 334.37L222.75 330.56L226.75 326.93L230.76 323.51L234.76 320.29L238.76 317.29L242.77 314.50L246.77 311.93L250.77 309.59L254.78 307.47L258.78 305.57L262.78 303.89L266.79 302.42L270.79 301.15L274.79 300.08L278.80 299.20L282.80 298.50L286.80 297.97L290.81 297.58L294.81 297.34L298.81 297.22L302.82 297.20L306.82 297.27L310.82 297.42L314.83 297.62L318.83 297.86L322.83 298.12L326.84 298.38L330.84 298.61L334.84 298.82L338.85 298.97L342.85 299.05L346.85 299.04L350.86 298.94L354.86 298.71L358.86 298.36L362.87 297.86L366.87 297.22L370.87 296.41L374.88 295.42L378.88 294.27L382.88 292.92L386.89 291.39L390.89 289.68L394.89 287.77L398.90 285.68L402.90 283.40L406.90 280.94L410.91 278.30L414.91 275.50L418.91 272.53L422.92 269.42L426.92 266.17L430.92 262.80L434.93 259.32L438.93 255.74L442.93 252.08L446.94 248.36L450.94 244.59L454.94 240.79L458.95 236.99L462.95 233.19L466.96 229.41L470.96 225.68L474.96 222.02L478.97 218.43L482.97 214.94L486.97 211.56L490.98 208.31L494.98 205.20L498.98 202.26L502.99 199.48L506.99 196.88L510.99 194.48L515.00 192.28L519.00 190.29L523.00 188.51L527.01 186.95L531.01 185.61L535.01 184.49L539.02 183.60L543.02 182.93L547.02 182.47L551.03 182.22L555.03 182.18L559.03 182.33L563.04 182.67L567.04 183.19L571.04 183.87L575.05 184.70L579.05 185.66L583.05 186.74L587.06 187.93L591.06 189.20L595.06 190.54L599.07 191.94L603.07 193.36L607.07 194.80L611.08 196.24L615.08 197.66L619.08 199.03L623.09 200.35L627.09 201.60L631.09 202.76L635.10 203.81L639.10 204.75L643.10 205.55L647.11 206.21L651.11 206.71L655.11 207.05L659.12 207.21L663.12 207.20L667.12 207.01L671.13 206.62L675.13 206.05L679.13 205.29L683.14 204.34L687.14 203.21L691.14 201.89L695.15 200.40L699.15 198.75L703.16 196.94L707.16 194.98L711.16 192.89L715.17 190.68L719.17 188.36L723.17 185.95L727.18 183.46L731.18 180.91L735.18 178.31L739.19 175.70L743.19 173.07L747.19 170.46L751.20 167.87L755.20 165.34L759.20 162.87L763.21 160.48L767.21 158.19L771.21 156.02L775.22 153.98L779.22 152.09L783.22 150.36L787.23 148.80L791.23 147.42L795.23 146.24L799.24 145.27L803.24 144.50L807.24 143.95L811.25 143.61L815.25 143.50L819.25 143.61L823.26 143.95L827.26 144.50L831.26 145.27L835.27 146.24L839.27 147.42L843.27 148.80L847.28 150.36L851.28 152.09L855.28 153.98L859.29 156.02L863.29 158.19L867.29 160.48L871.30 162.87L875.30 165.34L879.30 167.87L883.31 170.46L887.31 173.07L891.31 175.70L895.32 178.31L899.32 180.91L903.32 183.46L907.33 185.95L911.33 188.36L915.33 190.68L919.34 192.89L923.34 194.98L927.34 196.94L931.35 198.75L935.35 200.40L939.36 201.89L943.36 203.21L947.36 204.34L951.37 205.29L955.37 206.05L959.37 206.62L963.38 207.01L967.38 207.20L971.38 207.21L975.39 207.05L979.39 206.71L983.39 206.21L987.40 205.55L991.40 204.75L995.40 203.81L999.41 202.76L1003.41 201.60L1007.41 200.35L1011.42 199.03L1015.42 197.66L1019.42 196.24L1023.43 194.80L1027.43 193.36L1031.43 191.94L1035.44 190.54L1039.44 189.20L1043.44 187.93L1047.45 186.74L1051.45 185.66L1055.45 184.70L1059.46 183.87L1063.46 183.19L1067.46 182.67L1071.47 182.33L1075.47 182.18L1079.47 182.22L1083.48 182.47L1087.48 182.93L1091.48 183.60L1095.49 184.49L1099.49 185.61L1103.49 186.95L1107.50 188.51L1111.50 190.29L1115.50 192.28L1119.51 194.48L1123.51 196.88L1127.51 199.48L1131.52 202.26L1135.52 205.20L1139.52 208.31L1143.53 211.56L1147.53 214.94L1151.53 218.43L1155.54 222.02L1159.54 225.68L1163.54 229.41L1167.55 233.19L1171.55 236.99L1175.56 240.79L1179.56 244.59L1183.56 248.36L1187.57 252.08L1191.57 255.74L1195.57 259.32L1199.58 262.80L1203.58 266.17L1207.58 269.42L1211.59 272.53L1215.59 275.50L1219.59 278.30L1223.60 280.94L1227.60 283.40L1231.60 285.68L1235.61 287.77L1239.61 289.68L1243.61 291.39L1247.62 292.92L1251.62 294.27L1255.62 295.42L1259.63 296.41L1263.63 297.22L1267.63 297.86L1271.64 298.36L1275.64 298.71L1279.64 298.94L1283.65 299.04L1287.65 299.05L1291.65 298.97L1295.66 298.82L1299.66 298.61L1303.66 298.38L1307.67 298.12L1311.67 297.86L1315.67 297.62L1319.68 297.42L1323.68 297.27L1327.68 297.20L1331.69 297.22L1335.69 297.34L1339.69 297.58L1343.70 297.97L1347.70 298.50L1351.70 299.20L1355.71 300.08L1359.71 301.15L1363.71 302.42L1367.72 303.89L1371.72 305.57L1375.72 307.47L1379.73 309.59L1383.73 311.93L1387.73 314.50L1391.74 317.29L1395.74 320.29L1399.74 323.51L1403.75 326.93L1407.75 330.56L1411.76 334.37L1415.76 338.37L1419.76 342.53L1423.77 346.85L1427.77 351.31L1431.77 355.89L1435.78 360.59L1439.78 365.38L1443.78 370.24L1447.79 375.16L1451.79 380.13L1455.79 385.11L1459.80 390.10L1463.80 395.08L1467.80 400.02L1471.81 404.91L1475.81 409.74L1479.81 414.48L1483.82 419.13L1487.82 423.66L1491.82 428.06L1495.83 432.33L1499.83 436.44L1503.83 440.40L1507.84 444.18L1511.84 447.79L1515.84 451.21L1519.85 454.45L1523.85 457.50" stroke-opacity="0.45"/></g><clipPath id="bc"><path d="M106.65 455.00 L110.65 451.95 L114.66 448.71 L118.66 445.29 L122.66 441.68 L126.67 437.90 L130.67 433.94 L134.67 429.83 L138.68 425.56 L142.68 421.16 L146.68 416.63 L150.69 411.98 L154.69 407.24 L158.69 402.41 L162.70 397.52 L166.70 392.58 L170.70 387.60 L174.71 382.61 L178.71 377.63 L182.71 372.66 L186.72 367.74 L190.72 362.88 L194.72 358.09 L198.73 353.39 L202.73 348.81 L206.73 344.35 L210.74 340.03 L214.74 335.87 L218.74 331.87 L222.75 328.06 L226.75 324.43 L230.76 321.01 L234.76 317.79 L238.76 314.79 L242.77 312.00 L246.77 309.43 L250.77 307.09 L254.78 304.97 L258.78 303.07 L262.78 301.39 L266.79 299.92 L270.79 298.65 L274.79 297.58 L278.80 296.70 L282.80 296.00 L286.80 295.47 L290.81 295.08 L294.81 294.84 L298.81 294.72 L302.82 294.70 L306.82 294.77 L310.82 294.92 L314.83 295.12 L318.83 295.36 L322.83 295.62 L326.84 295.88 L330.84 296.11 L334.84 296.32 L338.85 296.47 L342.85 296.55 L346.85 296.54 L350.86 296.44 L354.86 296.21 L358.86 295.86 L362.87 295.36 L366.87 294.72 L370.87 293.91 L374.88 292.92 L378.88 291.77 L382.88 290.42 L386.89 288.89 L390.89 287.18 L394.89 285.27 L398.90 283.18 L402.90 280.90 L406.90 278.44 L410.91 275.80 L414.91 273.00 L418.91 270.03 L422.92 266.92 L426.92 263.67 L430.92 260.30 L434.93 256.82 L438.93 253.24 L442.93 249.58 L446.94 245.86 L450.94 242.09 L454.94 238.29 L458.95 234.49 L462.95 230.69 L466.96 226.91 L470.96 223.18 L474.96 219.52 L478.97 215.93 L482.97 212.44 L486.97 209.06 L490.98 205.81 L494.98 202.70 L498.98 199.76 L502.99 196.98 L506.99 194.38 L510.99 191.98 L515.00 189.78 L519.00 187.79 L523.00 186.01 L527.01 184.45 L531.01 183.11 L535.01 181.99 L539.02 181.10 L543.02 180.43 L547.02 179.97 L551.03 179.72 L555.03 179.68 L559.03 179.83 L563.04 180.17 L567.04 180.69 L571.04 181.37 L575.05 182.20 L579.05 183.16 L583.05 184.24 L587.06 185.43 L591.06 186.70 L595.06 188.04 L599.07 189.44 L603.07 190.86 L607.07 192.30 L611.08 193.74 L615.08 195.16 L619.08 196.53 L623.09 197.85 L627.09 199.10 L631.09 200.26 L635.10 201.31 L639.10 202.25 L643.10 203.05 L647.11 203.71 L651.11 204.21 L655.11 204.55 L659.12 204.71 L663.12 204.70 L667.12 204.51 L671.13 204.12 L675.13 203.55 L679.13 202.79 L683.14 201.84 L687.14 200.71 L691.14 199.39 L695.15 197.90 L699.15 196.25 L703.16 194.44 L707.16 192.48 L711.16 190.39 L715.17 188.18 L719.17 185.86 L723.17 183.45 L727.18 180.96 L731.18 178.41 L735.18 175.81 L739.19 173.20 L743.19 170.57 L747.19 167.96 L751.20 165.37 L755.20 162.84 L759.20 160.37 L763.21 157.98 L767.21 155.69 L771.21 153.52 L775.22 151.48 L779.22 149.59 L783.22 147.86 L787.23 146.30 L791.23 144.92 L795.23 143.74 L799.24 142.77 L803.24 142.00 L807.24 141.45 L811.25 141.11 L815.25 141.00 L819.25 141.11 L823.26 141.45 L827.26 142.00 L831.26 142.77 L835.27 143.74 L839.27 144.92 L843.27 146.30 L847.28 147.86 L851.28 149.59 L855.28 151.48 L859.29 153.52 L863.29 155.69 L867.29 157.98 L871.30 160.37 L875.30 162.84 L879.30 165.37 L883.31 167.96 L887.31 170.57 L891.31 173.20 L895.32 175.81 L899.32 178.41 L903.32 180.96 L907.33 183.45 L911.33 185.86 L915.33 188.18 L919.34 190.39 L923.34 192.48 L927.34 194.44 L931.35 196.25 L935.35 197.90 L939.36 199.39 L943.36 200.71 L947.36 201.84 L951.37 202.79 L955.37 203.55 L959.37 204.12 L963.38 204.51 L967.38 204.70 L971.38 204.71 L975.39 204.55 L979.39 204.21 L983.39 203.71 L987.40 203.05 L991.40 202.25 L995.40 201.31 L999.41 200.26 L1003.41 199.10 L1007.41 197.85 L1011.42 196.53 L1015.42 195.16 L1019.42 193.74 L1023.43 192.30 L1027.43 190.86 L1031.43 189.44 L1035.44 188.04 L1039.44 186.70 L1043.44 185.43 L1047.45 184.24 L1051.45 183.16 L1055.45 182.20 L1059.46 181.37 L1063.46 180.69 L1067.46 180.17 L1071.47 179.83 L1075.47 179.68 L1079.47 179.72 L1083.48 179.97 L1087.48 180.43 L1091.48 181.10 L1095.49 181.99 L1099.49 183.11 L1103.49 184.45 L1107.50 186.01 L1111.50 187.79 L1115.50 189.78 L1119.51 191.98 L1123.51 194.38 L1127.51 196.98 L1131.52 199.76 L1135.52 202.70 L1139.52 205.81 L1143.53 209.06 L1147.53 212.44 L1151.53 215.93 L1155.54 219.52 L1159.54 223.18 L1163.54 226.91 L1167.55 230.69 L1171.55 234.49 L1175.56 238.29 L1179.56 242.09 L1183.56 245.86 L1187.57 249.58 L1191.57 253.24 L1195.57 256.82 L1199.58 260.30 L1203.58 263.67 L1207.58 266.92 L1211.59 270.03 L1215.59 273.00 L1219.59 275.80 L1223.60 278.44 L1227.60 280.90 L1231.60 283.18 L1235.61 285.27 L1239.61 287.18 L1243.61 288.89 L1247.62 290.42 L1251.62 291.77 L1255.62 292.92 L1259.63 293.91 L1263.63 294.72 L1267.63 295.36 L1271.64 295.86 L1275.64 296.21 L1279.64 296.44 L1283.65 296.54 L1287.65 296.55 L1291.65 296.47 L1295.66 296.32 L1299.66 296.11 L1303.66 295.88 L1307.67 295.62 L1311.67 295.36 L1315.67 295.12 L1319.68 294.92 L1323.68 294.77 L1327.68 294.70 L1331.69 294.72 L1335.69 294.84 L1339.69 295.08 L1343.70 295.47 L1347.70 296.00 L1351.70 296.70 L1355.71 297.58 L1359.71 298.65 L1363.71 299.92 L1367.72 301.39 L1371.72 303.07 L1375.72 304.97 L1379.73 307.09 L1383.73 309.43 L1387.73 312.00 L1391.74 314.79 L1395.74 317.79 L1399.74 321.01 L1403.75 324.43 L1407.75 328.06 L1411.76 331.87 L1415.76 335.87 L1419.76 340.03 L1423.77 344.35 L1427.77 348.81 L1431.77 353.39 L1435.78 358.09 L1439.78 362.88 L1443.78 367.74 L1447.79 372.66 L1451.79 377.63 L1455.79 382.61 L1459.80 387.60 L1463.80 392.58 L1467.80 397.52 L1471.81 402.41 L1475.81 407.24 L1479.81 411.98 L1483.82 416.63 L1487.82 421.16 L1491.82 425.56 L1495.83 429.83 L1499.83 433.94 L1503.83 437.90 L1507.84 441.68 L1511.84 445.29 L1515.84 448.71 L1519.85 451.95 L1523.85 455.00 L1523.85 770.51 L1519.85 767.46 L1515.84 764.22 L1511.84 760.79 L1507.84 757.18 L1503.83 753.40 L1499.83 749.45 L1495.83 745.33 L1491.82 741.07 L1487.82 736.66 L1483.82 732.13 L1479.81 727.49 L1475.81 722.74 L1471.81 717.92 L1467.80 713.02 L1463.80 708.08 L1459.80 703.11 L1455.79 698.12 L1451.79 693.13 L1447.79 688.17 L1443.78 683.24 L1439.78 678.38 L1435.78 673.59 L1431.77 668.90 L1427.77 664.31 L1423.77 659.85 L1419.76 655.54 L1415.76 651.37 L1411.76 647.38 L1407.75 643.56 L1403.75 639.94 L1399.74 636.51 L1395.74 633.29 L1391.74 630.29 L1387.73 627.50 L1383.73 624.94 L1379.73 622.59 L1375.72 620.47 L1371.72 618.57 L1367.72 616.89 L1363.71 615.42 L1359.71 614.16 L1355.71 613.09 L1351.70 612.21 L1347.70 611.51 L1343.70 610.97 L1339.69 610.59 L1335.69 610.34 L1331.69 610.22 L1327.68 610.20 L1323.68 610.28 L1319.68 610.43 L1315.67 610.63 L1311.67 610.87 L1307.67 611.12 L1303.66 611.38 L1299.66 611.62 L1295.66 611.82 L1291.65 611.97 L1287.65 612.05 L1283.65 612.05 L1279.64 611.94 L1275.64 611.72 L1271.64 611.36 L1267.63 610.87 L1263.63 610.22 L1259.63 609.41 L1255.62 608.43 L1251.62 607.27 L1247.62 605.93 L1243.61 604.40 L1239.61 602.68 L1235.61 600.78 L1231.60 598.68 L1227.60 596.40 L1223.60 593.94 L1219.59 591.30 L1215.59 588.50 L1211.59 585.54 L1207.58 582.43 L1203.58 579.18 L1199.58 575.81 L1195.57 572.32 L1191.57 568.74 L1187.57 565.09 L1183.56 561.36 L1179.56 557.60 L1175.56 553.80 L1171.55 549.99 L1167.55 546.19 L1163.54 542.42 L1159.54 538.69 L1155.54 535.02 L1151.53 531.43 L1147.53 527.94 L1143.53 524.56 L1139.52 521.31 L1135.52 518.21 L1131.52 515.26 L1127.51 512.48 L1123.51 509.89 L1119.51 507.49 L1115.50 505.28 L1111.50 503.29 L1107.50 501.51 L1103.49 499.95 L1099.49 498.61 L1095.49 497.50 L1091.48 496.60 L1087.48 495.93 L1083.48 495.47 L1079.47 495.23 L1075.47 495.18 L1071.47 495.34 L1067.46 495.68 L1063.46 496.19 L1059.46 496.87 L1055.45 497.70 L1051.45 498.66 L1047.45 499.75 L1043.44 500.93 L1039.44 502.20 L1035.44 503.55 L1031.43 504.94 L1027.43 506.37 L1023.43 507.81 L1019.42 509.24 L1015.42 510.66 L1011.42 512.04 L1007.41 513.36 L1003.41 514.61 L999.41 515.76 L995.40 516.82 L991.40 517.75 L987.40 518.55 L983.39 519.21 L979.39 519.71 L975.39 520.05 L971.38 520.22 L967.38 520.21 L963.38 520.01 L959.37 519.63 L955.37 519.05 L951.37 518.29 L947.36 517.34 L943.36 516.21 L939.36 514.90 L935.35 513.41 L931.35 511.75 L927.34 509.94 L923.34 507.99 L919.34 505.90 L915.33 503.68 L911.33 501.36 L907.33 498.95 L903.32 496.46 L899.32 493.91 L895.32 491.32 L891.31 488.70 L887.31 486.07 L883.31 483.46 L879.30 480.88 L875.30 478.34 L871.30 475.87 L867.29 473.48 L863.29 471.20 L859.29 469.02 L855.28 466.99 L851.28 465.09 L847.28 463.36 L843.27 461.80 L839.27 460.43 L835.27 459.25 L831.26 458.27 L827.26 457.50 L823.26 456.95 L819.25 456.62 L815.25 456.50 L811.25 456.62 L807.24 456.95 L803.24 457.50 L799.24 458.27 L795.23 459.25 L791.23 460.43 L787.23 461.80 L783.22 463.36 L779.22 465.09 L775.22 466.99 L771.21 469.02 L767.21 471.20 L763.21 473.48 L759.20 475.87 L755.20 478.34 L751.20 480.88 L747.19 483.46 L743.19 486.07 L739.19 488.70 L735.18 491.32 L731.18 493.91 L727.18 496.46 L723.17 498.95 L719.17 501.36 L715.17 503.68 L711.16 505.90 L707.16 507.99 L703.16 509.94 L699.15 511.75 L695.15 513.41 L691.14 514.90 L687.14 516.21 L683.14 517.34 L679.13 518.29 L675.13 519.05 L671.13 519.63 L667.12 520.01 L663.12 520.21 L659.12 520.22 L655.11 520.05 L651.11 519.71 L647.11 519.21 L643.10 518.55 L639.10 517.75 L635.10 516.82 L631.09 515.76 L627.09 514.61 L623.09 513.36 L619.08 512.04 L615.08 510.66 L611.08 509.24 L607.07 507.81 L603.07 506.37 L599.07 504.94 L595.06 503.55 L591.06 502.20 L587.06 500.93 L583.05 499.75 L579.05 498.66 L575.05 497.70 L571.04 496.87 L567.04 496.19 L563.04 495.68 L559.03 495.34 L555.03 495.18 L551.03 495.23 L547.02 495.47 L543.02 495.93 L539.02 496.60 L535.01 497.50 L531.01 498.61 L527.01 499.95 L523.00 501.51 L519.00 503.29 L515.00 505.28 L510.99 507.49 L506.99 509.89 L502.99 512.48 L498.98 515.26 L494.98 518.21 L490.98 521.31 L486.97 524.56 L482.97 527.94 L478.97 531.43 L474.96 535.02 L470.96 538.69 L466.96 542.42 L462.95 546.19 L458.95 549.99 L454.94 553.80 L450.94 557.60 L446.94 561.36 L442.93 565.09 L438.93 568.74 L434.93 572.32 L430.92 575.81 L426.92 579.18 L422.92 582.43 L418.91 585.54 L414.91 588.50 L410.91 591.30 L406.90 593.94 L402.90 596.40 L398.90 598.68 L394.89 600.78 L390.89 602.68 L386.89 604.40 L382.88 605.93 L378.88 607.27 L374.88 608.43 L370.87 609.41 L366.87 610.22 L362.87 610.87 L358.86 611.36 L354.86 611.72 L350.86 611.94 L346.85 612.05 L342.85 612.05 L338.85 611.97 L334.84 611.82 L330.84 611.62 L326.84 611.38 L322.83 611.12 L318.83 610.87 L314.83 610.63 L310.82 610.43 L306.82 610.28 L302.82 610.20 L298.81 610.22 L294.81 610.34 L290.81 610.59 L286.80 610.97 L282.80 611.51 L278.80 612.21 L274.79 613.09 L270.79 614.16 L266.79 615.42 L262.78 616.89 L258.78 618.57 L254.78 620.47 L250.77 622.59 L246.77 624.94 L242.77 627.50 L238.76 630.29 L234.76 633.29 L230.76 636.51 L226.75 639.94 L222.75 643.56 L218.74 647.38 L214.74 651.37 L210.74 655.54 L206.73 659.85 L202.73 664.31 L198.73 668.90 L194.72 673.59 L190.72 678.38 L186.72 683.24 L182.71 688.17 L178.71 693.13 L174.71 698.12 L170.70 703.11 L166.70 708.08 L162.70 713.02 L158.69 717.92 L154.69 722.74 L150.69 727.49 L146.68 732.13 L142.68 736.66 L138.68 741.07 L134.67 745.33 L130.67 749.45 L126.67 753.40 L122.66 757.18 L118.66 760.79 L114.66 764.22 L110.65 767.46 L106.65 770.51Z"/></clipPath><mask id="mm" maskUnits="userSpaceOnUse" x="0" y="0" width="1632" height="945"><g stroke="#fff" stroke-width="1" fill="none" shape-rendering="crispEdges"><path d="M106.5 455.5V770.5M110.5 452.5V767.5M114.5 449.5V764.5M118.5 445.5V760.5M122.5 442.5V757.5M126.5 438.5V753.5M130.5 434.5V749.5M134.5 430.5V745.5M138.5 426.5V741.5M142.5 421.5V736.5M146.5 417.5V732.5M150.5 412.5V727.5M154.5 407.5V722.5M158.5 402.5V717.5M162.5 398.5V713.5M166.5 393.5V708.5M170.5 388.5V703.5M174.5 383.5V698.5M178.5 378.5V693.5M182.5 373.5V688.5M186.5 368.5V683.5M190.5 363.5V678.5M194.5 358.5V673.5M198.5 353.5V668.5M202.5 349.5V664.5M206.5 344.5V659.5M210.5 340.5V655.5M214.5 336.5V651.5M218.5 332.5V647.5M222.5 328.5V643.5M226.5 324.5V639.5M230.5 321.5V636.5M234.5 318.5V633.5M238.5 315.5V630.5M242.5 312.5V627.5M246.5 309.5V624.5M250.5 307.5V622.5M254.5 305.5V620.5M258.5 303.5V618.5M262.5 301.5V616.5M266.5 300.5V615.5M270.5 299.5V614.5M274.5 298.5V613.5M278.5 297.5V612.5M282.5 296.5V611.5M286.5 295.5V610.5M290.5 295.5V610.5M294.5 295.5V610.5M298.5 295.5V610.5M302.5 295.5V610.5M306.5 295.5V610.5M310.5 295.5V610.5M314.5 295.5V610.5M318.5 295.5V610.5M322.5 296.5V611.5M326.5 296.5V611.5M330.5 296.5V611.5M334.5 296.5V611.5M338.5 296.5V611.5M342.5 297.5V612.5M346.5 297.5V612.5M350.5 296.5V611.5M354.5 296.5V611.5M358.5 296.5V611.5M362.5 295.5V610.5M366.5 295.5V610.5M370.5 294.5V609.5M374.5 293.5V608.5M378.5 292.5V607.5M382.5 290.5V605.5M386.5 289.5V604.5M390.5 287.5V602.5M394.5 285.5V600.5M398.5 283.5V598.5M402.5 281.5V596.5M406.5 278.5V593.5M410.5 276.5V591.5M414.5 273.5V588.5M418.5 270.5V585.5M422.5 267.5V582.5M426.5 264.5V579.5M430.5 260.5V575.5M434.5 257.5V572.5M438.5 253.5V568.5M442.5 250.5V565.5M446.5 246.5V561.5M450.5 242.5V557.5M454.5 238.5V553.5M458.5 234.5V549.5M462.5 231.5V546.5M466.5 227.5V542.5M470.5 223.5V538.5M474.5 220.5V535.5M478.5 216.5V531.5M482.5 212.5V527.5M486.5 209.5V524.5M490.5 206.5V521.5M494.5 203.5V518.5M498.5 200.5V515.5M502.5 197.5V512.5M506.5 194.5V509.5M510.5 192.5V507.5M514.5 190.5V505.5M518.5 188.5V503.5M523.5 186.5V501.5M527.5 184.5V499.5M531.5 183.5V498.5M535.5 182.5V497.5M539.5 181.5V496.5M543.5 180.5V495.5M547.5 180.5V495.5M551.5 180.5V495.5M555.5 180.5V495.5M559.5 180.5V495.5M563.5 180.5V495.5M567.5 181.5V496.5M571.5 181.5V496.5M575.5 182.5V497.5M579.5 183.5V498.5M583.5 184.5V499.5M587.5 185.5V500.5M591.5 187.5V502.5M595.5 188.5V503.5M599.5 189.5V504.5M603.5 191.5V506.5M607.5 192.5V507.5M611.5 194.5V509.5M615.5 195.5V510.5M619.5 197.5V512.5M623.5 198.5V513.5M627.5 199.5V514.5M631.5 200.5V515.5M635.5 201.5V516.5M639.5 202.5V517.5M643.5 203.5V518.5M647.5 204.5V519.5M651.5 204.5V519.5M655.5 205.5V520.5M659.5 205.5V520.5M663.5 205.5V520.5M667.5 205.5V520.5M671.5 204.5V519.5M675.5 204.5V519.5M679.5 203.5V518.5M683.5 202.5V517.5M687.5 201.5V516.5M691.5 199.5V514.5M695.5 198.5V513.5M699.5 196.5V511.5M703.5 194.5V509.5M707.5 192.5V507.5M711.5 190.5V505.5M715.5 188.5V503.5M719.5 186.5V501.5M723.5 183.5V498.5M727.5 181.5V496.5M731.5 178.5V493.5M735.5 176.5V491.5M739.5 173.5V488.5M743.5 171.5V486.5M747.5 168.5V483.5M751.5 165.5V480.5M755.5 163.5V478.5M759.5 160.5V475.5M763.5 158.5V473.5M767.5 156.5V471.5M771.5 154.5V469.5M775.5 151.5V466.5M779.5 150.5V465.5M783.5 148.5V463.5M787.5 146.5V461.5M791.5 145.5V460.5M795.5 144.5V459.5M799.5 143.5V458.5M803.5 142.5V457.5M807.5 141.5V456.5M811.5 141.5V456.5M815.5 141.5V456.5M819.5 141.5V456.5M823.5 141.5V456.5M827.5 142.5V457.5M831.5 143.5V458.5M835.5 144.5V459.5M839.5 145.5V460.5M843.5 146.5V461.5M847.5 148.5V463.5M851.5 150.5V465.5M855.5 151.5V466.5M859.5 154.5V469.5M863.5 156.5V471.5M867.5 158.5V473.5M871.5 160.5V475.5M875.5 163.5V478.5M879.5 165.5V480.5M883.5 168.5V483.5M887.5 171.5V486.5M891.5 173.5V488.5M895.5 176.5V491.5M899.5 178.5V493.5M903.5 181.5V496.5M907.5 183.5V498.5M911.5 186.5V501.5M915.5 188.5V503.5M919.5 190.5V505.5M923.5 192.5V507.5M927.5 194.5V509.5M931.5 196.5V511.5M935.5 198.5V513.5M939.5 199.5V514.5M943.5 201.5V516.5M947.5 202.5V517.5M951.5 203.5V518.5M955.5 204.5V519.5M959.5 204.5V519.5M963.5 205.5V520.5M967.5 205.5V520.5M971.5 205.5V520.5M975.5 205.5V520.5M979.5 204.5V519.5M983.5 204.5V519.5M987.5 203.5V518.5M991.5 202.5V517.5M995.5 201.5V516.5M999.5 200.5V515.5M1003.5 199.5V514.5M1007.5 198.5V513.5M1011.5 197.5V512.5M1015.5 195.5V510.5M1019.5 194.5V509.5M1023.5 192.5V507.5M1027.5 191.5V506.5M1031.5 189.5V504.5M1035.5 188.5V503.5M1039.5 187.5V502.5M1043.5 185.5V500.5M1047.5 184.5V499.5M1051.5 183.5V498.5M1055.5 182.5V497.5M1059.5 181.5V496.5M1063.5 181.5V496.5M1067.5 180.5V495.5M1071.5 180.5V495.5M1075.5 180.5V495.5M1079.5 180.5V495.5M1083.5 180.5V495.5M1087.5 180.5V495.5M1091.5 181.5V496.5M1095.5 182.5V497.5M1099.5 183.5V498.5M1103.5 184.5V499.5M1107.5 186.5V501.5M1111.5 188.5V503.5M1115.5 190.5V505.5M1119.5 192.5V507.5M1123.5 194.5V509.5M1127.5 197.5V512.5M1131.5 200.5V515.5M1135.5 203.5V518.5M1139.5 206.5V521.5M1143.5 209.5V524.5M1147.5 212.5V527.5M1151.5 216.5V531.5M1155.5 220.5V535.5M1159.5 223.5V538.5M1163.5 227.5V542.5M1167.5 231.5V546.5M1171.5 234.5V549.5M1175.5 238.5V553.5M1179.5 242.5V557.5M1183.5 246.5V561.5M1187.5 250.5V565.5M1191.5 253.5V568.5M1195.5 257.5V572.5M1199.5 260.5V575.5M1203.5 264.5V579.5M1207.5 267.5V582.5M1211.5 270.5V585.5M1215.5 273.5V588.5M1219.5 276.5V591.5M1223.5 278.5V593.5M1227.5 281.5V596.5M1231.5 283.5V598.5M1235.5 285.5V600.5M1239.5 287.5V602.5M1243.5 289.5V604.5M1247.5 290.5V605.5M1251.5 292.5V607.5M1255.5 293.5V608.5M1259.5 294.5V609.5M1263.5 295.5V610.5M1267.5 295.5V610.5M1271.5 296.5V611.5M1275.5 296.5V611.5M1279.5 296.5V611.5M1283.5 297.5V612.5M1287.5 297.5V612.5M1291.5 296.5V611.5M1295.5 296.5V611.5M1299.5 296.5V611.5M1303.5 296.5V611.5M1307.5 296.5V611.5M1311.5 295.5V610.5M1315.5 295.5V610.5M1319.5 295.5V610.5M1323.5 295.5V610.5M1327.5 295.5V610.5M1331.5 295.5V610.5M1335.5 295.5V610.5M1339.5 295.5V610.5M1343.5 295.5V610.5M1347.5 296.5V611.5M1351.5 297.5V612.5M1355.5 298.5V613.5M1359.5 299.5V614.5M1363.5 300.5V615.5M1367.5 301.5V616.5M1371.5 303.5V618.5M1375.5 305.5V620.5M1379.5 307.5V622.5M1383.5 309.5V624.5M1387.5 312.5V627.5M1391.5 315.5V630.5M1395.5 318.5V633.5M1399.5 321.5V636.5M1403.5 324.5V639.5M1407.5 328.5V643.5M1411.5 332.5V647.5M1415.5 336.5V651.5M1419.5 340.5V655.5M1423.5 344.5V659.5M1427.5 349.5V664.5M1431.5 353.5V668.5M1435.5 358.5V673.5M1439.5 363.5V678.5M1443.5 368.5V683.5M1447.5 373.5V688.5M1451.5 378.5V693.5M1455.5 383.5V698.5M1459.5 388.5V703.5M1463.5 393.5V708.5M1467.5 398.5V713.5M1471.5 402.5V717.5M1475.5 407.5V722.5M1479.5 412.5V727.5M1483.5 417.5V732.5M1487.5 421.5V736.5M1491.5 426.5V741.5M1495.5 430.5V745.5M1499.5 434.5V749.5M1503.5 438.5V753.5M1507.5 442.5V757.5M1511.5 445.5V760.5M1515.5 449.5V764.5M1519.5 452.5V767.5M1523.5 455.5V770.5"/><g clip-path="url(#bc)"><use href="#gst" y="0"/><use href="#gs" y="4"/><use href="#gs" y="8"/><use href="#gs" y="12"/><use href="#gs" y="16"/><use href="#gs" y="20"/><use href="#gs" y="24"/><use href="#gs" y="28"/><use href="#gs" y="32"/><use href="#gs" y="36"/><use href="#gs" y="40"/><use href="#gs" y="44"/><use href="#gs" y="48"/><use href="#gs" y="52"/><use href="#gs" y="56"/><use href="#gs" y="60"/><use href="#gs" y="64"/><use href="#gs" y="68"/><use href="#gs" y="72"/><use href="#gs" y="76"/><use href="#gs" y="80"/><use href="#gs" y="84"/><use href="#gs" y="88"/><use href="#gs" y="92"/><use href="#gs" y="96"/><use href="#gs" y="100"/><use href="#gs" y="104"/><use href="#gs" y="108"/><use href="#gs" y="112"/><use href="#gs" y="116"/><use href="#gs" y="120"/><use href="#gs" y="124"/><use href="#gs" y="128"/><use href="#gs" y="132"/><use href="#gs" y="136"/><use href="#gs" y="140"/><use href="#gs" y="144"/><use href="#gs" y="148"/><use href="#gs" y="152"/><use href="#gs" y="156"/><use href="#gs" y="160"/><use href="#gs" y="164"/><use href="#gs" y="168"/><use href="#gs" y="172"/><use href="#gs" y="176"/><use href="#gs" y="180"/><use href="#gs" y="184"/><use href="#gs" y="188"/><use href="#gs" y="192"/><use href="#gs" y="196"/><use href="#gs" y="200"/><use href="#gs" y="204"/><use href="#gs" y="208"/><use href="#gs" y="212"/><use href="#gs" y="216"/><use href="#gs" y="220"/><use href="#gs" y="224"/><use href="#gs" y="228"/><use href="#gs" y="232"/><use href="#gs" y="236"/><use href="#gs" y="240"/><use href="#gs" y="244"/><use href="#gs" y="248"/><use href="#gs" y="252"/><use href="#gs" y="256"/><use href="#gs" y="260"/><use href="#gs" y="264"/><use href="#gs" y="268"/><use href="#gs" y="272"/><use href="#gs" y="276"/><use href="#gs" y="280"/><use href="#gs" y="284"/><use href="#gs" y="288"/><use href="#gs" y="292"/><use href="#gs" y="296"/><use href="#gs" y="300"/><use href="#gs" y="304"/><use href="#gs" y="308"/><use href="#gs" y="312"/><use href="#gs" y="2" opacity="0.6"/><use href="#gs" y="38.7" opacity="0.8"/><use href="#gs" y="40.2" opacity="0.4"/><use href="#gs" y="153.7" opacity="0.7"/><use href="#gs" y="155.2" opacity="0.35"/></g></g></mask><filter id="crisp" x="0" y="0" width="1" height="1" filterUnits="objectBoundingBox"><feComponentTransfer><feFuncA type="discrete" tableValues="0 0 0 1"/></feComponentTransfer></filter></defs><rect width="1632" height="945" fill="#fff"/><g stroke="#000" stroke-width="1" fill="none" shape-rendering="crispEdges"><path d="M247.5 64V849M389.5 64V849M531.5 64V849M673.5 64V849M815.5 64V849M956.5 64V849M1098.5 64V849M1240.5 64V849M1381.5 64V849M1523.5 64V849" stroke-dasharray="1 3" stroke-dashoffset="-2"/><path d="M106 64.5H1524M106 195.5H1524M106 326.5H1524M106 457.5H1524M106 588.5H1524M106 718.5H1524" stroke-dasharray="1 3" stroke-dashoffset="-3"/><path d="M106.5 63V849.5H1525M106.5 849V834M247.5 849V834M389.5 849V834M531.5 849V834M673.5 849V834M815.5 849V834M956.5 849V834M1098.5 849V834M1240.5 849V834M1381.5 849V834M1523.5 849V834M106 64.5H120M106 195.5H120M106 326.5H120M106 457.5H120M106 588.5H120M106 718.5H120M106 849.5H120"/></g><path d="M106.65 455.00 L110.65 451.95 L114.66 448.71 L118.66 445.29 L122.66 441.68 L126.67 437.90 L130.67 433.94 L134.67 429.83 L138.68 425.56 L142.68 421.16 L146.68 416.63 L150.69 411.98 L154.69 407.24 L158.69 402.41 L162.70 397.52 L166.70 392.58 L170.70 387.60 L174.71 382.61 L178.71 377.63 L182.71 372.66 L186.72 367.74 L190.72 362.88 L194.72 358.09 L198.73 353.39 L202.73 348.81 L206.73 344.35 L210.74 340.03 L214.74 335.87 L218.74 331.87 L222.75 328.06 L226.75 324.43 L230.76 321.01 L234.76 317.79 L238.76 314.79 L242.77 312.00 L246.77 309.43 L250.77 307.09 L254.78 304.97 L258.78 303.07 L262.78 301.39 L266.79 299.92 L270.79 298.65 L274.79 297.58 L278.80 296.70 L282.80 296.00 L286.80 295.47 L290.81 295.08 L294.81 294.84 L298.81 294.72 L302.82 294.70 L306.82 294.77 L310.82 294.92 L314.83 295.12 L318.83 295.36 L322.83 295.62 L326.84 295.88 L330.84 296.11 L334.84 296.32 L338.85 296.47 L342.85 296.55 L346.85 296.54 L350.86 296.44 L354.86 296.21 L358.86 295.86 L362.87 295.36 L366.87 294.72 L370.87 293.91 L374.88 292.92 L378.88 291.77 L382.88 290.42 L386.89 288.89 L390.89 287.18 L394.89 285.27 L398.90 283.18 L402.90 280.90 L406.90 278.44 L410.91 275.80 L414.91 273.00 L418.91 270.03 L422.92 266.92 L426.92 263.67 L430.92 260.30 L434.93 256.82 L438.93 253.24 L442.93 249.58 L446.94 245.86 L450.94 242.09 L454.94 238.29 L458.95 234.49 L462.95 230.69 L466.96 226.91 L470.96 223.18 L474.96 219.52 L478.97 215.93 L482.97 212.44 L486.97 209.06 L490.98 205.81 L494.98 202.70 L498.98 199.76 L502.99 196.98 L506.99 194.38 L510.99 191.98 L515.00 189.78 L519.00 187.79 L523.00 186.01 L527.01 184.45 L531.01 183.11 L535.01 181.99 L539.02 181.10 L543.02 180.43 L547.02 179.97 L551.03 179.72 L555.03 179.68 L559.03 179.83 L563.04 180.17 L567.04 180.69 L571.04 181.37 L575.05 182.20 L579.05 183.16 L583.05 184.24 L587.06 185.43 L591.06 186.70 L595.06 188.04 L599.07 189.44 L603.07 190.86 L607.07 192.30 L611.08 193.74 L615.08 195.16 L619.08 196.53 L623.09 197.85 L627.09 199.10 L631.09 200.26 L635.10 201.31 L639.10 202.25 L643.10 203.05 L647.11 203.71 L651.11 204.21 L655.11 204.55 L659.12 204.71 L663.12 204.70 L667.12 204.51 L671.13 204.12 L675.13 203.55 L679.13 202.79 L683.14 201.84 L687.14 200.71 L691.14 199.39 L695.15 197.90 L699.15 196.25 L703.16 194.44 L707.16 192.48 L711.16 190.39 L715.17 188.18 L719.17 185.86 L723.17 183.45 L727.18 180.96 L731.18 178.41 L735.18 175.81 L739.19 173.20 L743.19 170.57 L747.19 167.96 L751.20 165.37 L755.20 162.84 L759.20 160.37 L763.21 157.98 L767.21 155.69 L771.21 153.52 L775.22 151.48 L779.22 149.59 L783.22 147.86 L787.23 146.30 L791.23 144.92 L795.23 143.74 L799.24 142.77 L803.24 142.00 L807.24 141.45 L811.25 141.11 L815.25 141.00 L819.25 141.11 L823.26 141.45 L827.26 142.00 L831.26 142.77 L835.27 143.74 L839.27 144.92 L843.27 146.30 L847.28 147.86 L851.28 149.59 L855.28 151.48 L859.29 153.52 L863.29 155.69 L867.29 157.98 L871.30 160.37 L875.30 162.84 L879.30 165.37 L883.31 167.96 L887.31 170.57 L891.31 173.20 L895.32 175.81 L899.32 178.41 L903.32 180.96 L907.33 183.45 L911.33 185.86 L915.33 188.18 L919.34 190.39 L923.34 192.48 L927.34 194.44 L931.35 196.25 L935.35 197.90 L939.36 199.39 L943.36 200.71 L947.36 201.84 L951.37 202.79 L955.37 203.55 L959.37 204.12 L963.38 204.51 L967.38 204.70 L971.38 204.71 L975.39 204.55 L979.39 204.21 L983.39 203.71 L987.40 203.05 L991.40 202.25 L995.40 201.31 L999.41 200.26 L1003.41 199.10 L1007.41 197.85 L1011.42 196.53 L1015.42 195.16 L1019.42 193.74 L1023.43 192.30 L1027.43 190.86 L1031.43 189.44 L1035.44 188.04 L1039.44 186.70 L1043.44 185.43 L1047.45 184.24 L1051.45 183.16 L1055.45 182.20 L1059.46 181.37 L1063.46 180.69 L1067.46 180.17 L1071.47 179.83 L1075.47 179.68 L1079.47 179.72 L1083.48 179.97 L1087.48 180.43 L1091.48 181.10 L1095.49 181.99 L1099.49 183.11 L1103.49 184.45 L1107.50 186.01 L1111.50 187.79 L1115.50 189.78 L1119.51 191.98 L1123.51 194.38 L1127.51 196.98 L1131.52 199.76 L1135.52 202.70 L1139.52 205.81 L1143.53 209.06 L1147.53 212.44 L1151.53 215.93 L1155.54 219.52 L1159.54 223.18 L1163.54 226.91 L1167.55 230.69 L1171.55 234.49 L1175.56 238.29 L1179.56 242.09 L1183.56 245.86 L1187.57 249.58 L1191.57 253.24 L1195.57 256.82 L1199.58 260.30 L1203.58 263.67 L1207.58 266.92 L1211.59 270.03 L1215.59 273.00 L1219.59 275.80 L1223.60 278.44 L1227.60 280.90 L1231.60 283.18 L1235.61 285.27 L1239.61 287.18 L1243.61 288.89 L1247.62 290.42 L1251.62 291.77 L1255.62 292.92 L1259.63 293.91 L1263.63 294.72 L1267.63 295.36 L1271.64 295.86 L1275.64 296.21 L1279.64 296.44 L1283.65 296.54 L1287.65 296.55 L1291.65 296.47 L1295.66 296.32 L1299.66 296.11 L1303.66 295.88 L1307.67 295.62 L1311.67 295.36 L1315.67 295.12 L1319.68 294.92 L1323.68 294.77 L1327.68 294.70 L1331.69 294.72 L1335.69 294.84 L1339.69 295.08 L1343.70 295.47 L1347.70 296.00 L1351.70 296.70 L1355.71 297.58 L1359.71 298.65 L1363.71 299.92 L1367.72 301.39 L1371.72 303.07 L1375.72 304.97 L1379.73 307.09 L1383.73 309.43 L1387.73 312.00 L1391.74 314.79 L1395.74 317.79 L1399.74 321.01 L1403.75 324.43 L1407.75 328.06 L1411.76 331.87 L1415.76 335.87 L1419.76 340.03 L1423.77 344.35 L1427.77 348.81 L1431.77 353.39 L1435.78 358.09 L1439.78 362.88 L1443.78 367.74 L1447.79 372.66 L1451.79 377.63 L1455.79 382.61 L1459.80 387.60 L1463.80 392.58 L1467.80 397.52 L1471.81 402.41 L1475.81 407.24 L1479.81 411.98 L1483.82 416.63 L1487.82 421.16 L1491.82 425.56 L1495.83 429.83 L1499.83 433.94 L1503.83 437.90 L1507.84 441.68 L1511.84 445.29 L1515.84 448.71 L1519.85 451.95 L1523.85 455.00 L1523.85 770.51 L1519.85 767.46 L1515.84 764.22 L1511.84 760.79 L1507.84 757.18 L1503.83 753.40 L1499.83 749.45 L1495.83 745.33 L1491.82 741.07 L1487.82 736.66 L1483.82 732.13 L1479.81 727.49 L1475.81 722.74 L1471.81 717.92 L1467.80 713.02 L1463.80 708.08 L1459.80 703.11 L1455.79 698.12 L1451.79 693.13 L1447.79 688.17 L1443.78 683.24 L1439.78 678.38 L1435.78 673.59 L1431.77 668.90 L1427.77 664.31 L1423.77 659.85 L1419.76 655.54 L1415.76 651.37 L1411.76 647.38 L1407.75 643.56 L1403.75 639.94 L1399.74 636.51 L1395.74 633.29 L1391.74 630.29 L1387.73 627.50 L1383.73 624.94 L1379.73 622.59 L1375.72 620.47 L1371.72 618.57 L1367.72 616.89 L1363.71 615.42 L1359.71 614.16 L1355.71 613.09 L1351.70 612.21 L1347.70 611.51 L1343.70 610.97 L1339.69 610.59 L1335.69 610.34 L1331.69 610.22 L1327.68 610.20 L1323.68 610.28 L1319.68 610.43 L1315.67 610.63 L1311.67 610.87 L1307.67 611.12 L1303.66 611.38 L1299.66 611.62 L1295.66 611.82 L1291.65 611.97 L1287.65 612.05 L1283.65 612.05 L1279.64 611.94 L1275.64 611.72 L1271.64 611.36 L1267.63 610.87 L1263.63 610.22 L1259.63 609.41 L1255.62 608.43 L1251.62 607.27 L1247.62 605.93 L1243.61 604.40 L1239.61 602.68 L1235.61 600.78 L1231.60 598.68 L1227.60 596.40 L1223.60 593.94 L1219.59 591.30 L1215.59 588.50 L1211.59 585.54 L1207.58 582.43 L1203.58 579.18 L1199.58 575.81 L1195.57 572.32 L1191.57 568.74 L1187.57 565.09 L1183.56 561.36 L1179.56 557.60 L1175.56 553.80 L1171.55 549.99 L1167.55 546.19 L1163.54 542.42 L1159.54 538.69 L1155.54 535.02 L1151.53 531.43 L1147.53 527.94 L1143.53 524.56 L1139.52 521.31 L1135.52 518.21 L1131.52 515.26 L1127.51 512.48 L1123.51 509.89 L1119.51 507.49 L1115.50 505.28 L1111.50 503.29 L1107.50 501.51 L1103.49 499.95 L1099.49 498.61 L1095.49 497.50 L1091.48 496.60 L1087.48 495.93 L1083.48 495.47 L1079.47 495.23 L1075.47 495.18 L1071.47 495.34 L1067.46 495.68 L1063.46 496.19 L1059.46 496.87 L1055.45 497.70 L1051.45 498.66 L1047.45 499.75 L1043.44 500.93 L1039.44 502.20 L1035.44 503.55 L1031.43 504.94 L1027.43 506.37 L1023.43 507.81 L1019.42 509.24 L1015.42 510.66 L1011.42 512.04 L1007.41 513.36 L1003.41 514.61 L999.41 515.76 L995.40 516.82 L991.40 517.75 L987.40 518.55 L983.39 519.21 L979.39 519.71 L975.39 520.05 L971.38 520.22 L967.38 520.21 L963.38 520.01 L959.37 519.63 L955.37 519.05 L951.37 518.29 L947.36 517.34 L943.36 516.21 L939.36 514.90 L935.35 513.41 L931.35 511.75 L927.34 509.94 L923.34 507.99 L919.34 505.90 L915.33 503.68 L911.33 501.36 L907.33 498.95 L903.32 496.46 L899.32 493.91 L895.32 491.32 L891.31 488.70 L887.31 486.07 L883.31 483.46 L879.30 480.88 L875.30 478.34 L871.30 475.87 L867.29 473.48 L863.29 471.20 L859.29 469.02 L855.28 466.99 L851.28 465.09 L847.28 463.36 L843.27 461.80 L839.27 460.43 L835.27 459.25 L831.26 458.27 L827.26 457.50 L823.26 456.95 L819.25 456.62 L815.25 456.50 L811.25 456.62 L807.24 456.95 L803.24 457.50 L799.24 458.27 L795.23 459.25 L791.23 460.43 L787.23 461.80 L783.22 463.36 L779.22 465.09 L775.22 466.99 L771.21 469.02 L767.21 471.20 L763.21 473.48 L759.20 475.87 L755.20 478.34 L751.20 480.88 L747.19 483.46 L743.19 486.07 L739.19 488.70 L735.18 491.32 L731.18 493.91 L727.18 496.46 L723.17 498.95 L719.17 501.36 L715.17 503.68 L711.16 505.90 L707.16 507.99 L703.16 509.94 L699.15 511.75 L695.15 513.41 L691.14 514.90 L687.14 516.21 L683.14 517.34 L679.13 518.29 L675.13 519.05 L671.13 519.63 L667.12 520.01 L663.12 520.21 L659.12 520.22 L655.11 520.05 L651.11 519.71 L647.11 519.21 L643.10 518.55 L639.10 517.75 L635.10 516.82 L631.09 515.76 L627.09 514.61 L623.09 513.36 L619.08 512.04 L615.08 510.66 L611.08 509.24 L607.07 507.81 L603.07 506.37 L599.07 504.94 L595.06 503.55 L591.06 502.20 L587.06 500.93 L583.05 499.75 L579.05 498.66 L575.05 497.70 L571.04 496.87 L567.04 496.19 L563.04 495.68 L559.03 495.34 L555.03 495.18 L551.03 495.23 L547.02 495.47 L543.02 495.93 L539.02 496.60 L535.01 497.50 L531.01 498.61 L527.01 499.95 L523.00 501.51 L519.00 503.29 L515.00 505.28 L510.99 507.49 L506.99 509.89 L502.99 512.48 L498.98 515.26 L494.98 518.21 L490.98 521.31 L486.97 524.56 L482.97 527.94 L478.97 531.43 L474.96 535.02 L470.96 538.69 L466.96 542.42 L462.95 546.19 L458.95 549.99 L454.94 553.80 L450.94 557.60 L446.94 561.36 L442.93 565.09 L438.93 568.74 L434.93 572.32 L430.92 575.81 L426.92 579.18 L422.92 582.43 L418.91 585.54 L414.91 588.50 L410.91 591.30 L406.90 593.94 L402.90 596.40 L398.90 598.68 L394.89 600.78 L390.89 602.68 L386.89 604.40 L382.88 605.93 L378.88 607.27 L374.88 608.43 L370.87 609.41 L366.87 610.22 L362.87 610.87 L358.86 611.36 L354.86 611.72 L350.86 611.94 L346.85 612.05 L342.85 612.05 L338.85 611.97 L334.84 611.82 L330.84 611.62 L326.84 611.38 L322.83 611.12 L318.83 610.87 L314.83 610.63 L310.82 610.43 L306.82 610.28 L302.82 610.20 L298.81 610.22 L294.81 610.34 L290.81 610.59 L286.80 610.97 L282.80 611.51 L278.80 612.21 L274.79 613.09 L270.79 614.16 L266.79 615.42 L262.78 616.89 L258.78 618.57 L254.78 620.47 L250.77 622.59 L246.77 624.94 L242.77 627.50 L238.76 630.29 L234.76 633.29 L230.76 636.51 L226.75 639.94 L222.75 643.56 L218.74 647.38 L214.74 651.37 L210.74 655.54 L206.73 659.85 L202.73 664.31 L198.73 668.90 L194.72 673.59 L190.72 678.38 L186.72 683.24 L182.71 688.17 L178.71 693.13 L174.71 698.12 L170.70 703.11 L166.70 708.08 L162.70 713.02 L158.69 717.92 L154.69 722.74 L150.69 727.49 L146.68 732.13 L142.68 736.66 L138.68 741.07 L134.67 745.33 L130.67 749.45 L126.67 753.40 L122.66 757.18 L118.66 760.79 L114.66 764.22 L110.65 767.46 L106.65 770.51Z" fill="#fff"/><rect x="100" y="130" width="1430" height="730" fill="url(#jet)" mask="url(#mm)"/><g font-family="'Liberation Sans', Arial, sans-serif" font-size="17" fill="#000"><text x="102.5" y="70.5" text-anchor="end">0.5</text><text x="102.5" y="201.5" text-anchor="end">0</text><text x="102.5" y="332.5" text-anchor="end">-0.5</text><text x="102.5" y="463.5" text-anchor="end">-1</text><text x="102.5" y="594.5" text-anchor="end">-1.5</text><text x="102.5" y="724.5" text-anchor="end">-2</text><text x="102.5" y="855.5" text-anchor="end">-2.5</text><text x="104.5" y="868" text-anchor="middle">-1</text><text x="245.5" y="868" text-anchor="middle">-0.8</text><text x="387.5" y="868" text-anchor="middle">-0.6</text><text x="529.5" y="868" text-anchor="middle">-0.4</text><text x="671.5" y="868" text-anchor="middle">-0.2</text><text x="815.5" y="868" text-anchor="middle">0</text><text x="956.5" y="868" text-anchor="middle">0.2</text><text x="1098.5" y="868" text-anchor="middle">0.4</text><text x="1240.5" y="868" text-anchor="middle">0.6</text><text x="1381.5" y="868" text-anchor="middle">0.8</text><text x="1523.5" y="868" text-anchor="middle">1</text><text x="1574" y="134.5">0</text><text x="1574" y="298.5">-0.5</text><text x="1574" y="462.5">-1</text><text x="1574" y="625.5">-1.5</text><text x="1574" y="788.5">-2</text></g><rect x="1545.5" y="62.5" width="27" height="786" fill="url(#jcb)" stroke="#000" stroke-width="1" shape-rendering="crispEdges"/><path d="M1545 128.5H1552M1565 128.5H1573M1545 292.5H1552M1565 292.5H1573M1545 456.5H1552M1565 456.5H1573M1545 619.5H1552M1565 619.5H1573M1545 782.5H1552M1565 782.5H1573" stroke="#000" stroke-width="1" shape-rendering="crispEdges"/><text x="813" y="49" text-anchor="middle" font-family="'Liberation Serif', 'Times New Roman', serif" font-weight="bold" font-size="32">X-Z Plane View</text><text transform="translate(63 460.5) rotate(-90)" text-anchor="middle" font-family="'Liberation Serif', 'Times New Roman', serif" font-style="italic" font-size="28">f(X)</text><text x="801" y="895" font-family="'Liberation Serif', 'Times New Roman', serif" font-style="italic" font-size="28">x</text><text x="814" y="907.5" font-family="'Liberation Serif', 'Times New Roman', serif" font-style="italic" font-size="21">1</text></svg></body></html>
